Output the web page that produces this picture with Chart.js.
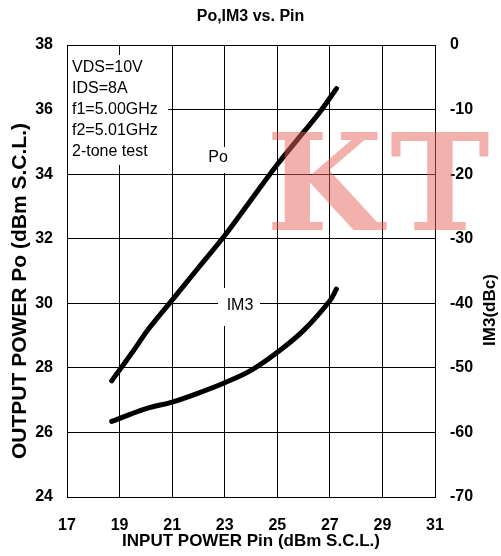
<!DOCTYPE html>
<html>
<head>
<meta charset="utf-8">
<script src="https://cdn.jsdelivr.net/npm/chart.js@4.4.0/dist/chart.umd.min.js"></script>
<style>
  html, body { margin: 0; padding: 0; background: #fff; }
</style>
</head>
<body>
<canvas id="poChart" width="501" height="556"></canvas>
<script>
// values
const pinPo = [18.7, 19.5, 20.1, 21, 22, 23, 24, 25, 26, 26.6, 27.25];
const po = [27.6, 28.5, 29.2, 30.1, 31.1, 32.1, 33.2, 34.3, 35.3, 35.9, 36.65];

const pinIm3 = [18.7, 19.4, 20.1, 21, 22, 23, 24, 25, 26, 27, 27.25];
const im3 = [-58.3, -57.2, -56.2, -55.3, -53.9, -52.3, -50.4, -47.6, -44.2, -39.6, -37.8];

const conditions = ['VDS=10V', 'IDS=8A', 'f1=5.00GHz', 'f2=5.01GHz', '2-tone test'];

const FONT = "'Liberation Sans', Arial, sans-serif";
Chart.defaults.color = '#000';
Chart.defaults.font.family = FONT;

const toPoints = (xs, ys) => xs.map((x, i) => ({ x: x, y: ys[i] }));

// text, labels boxes and the watermark
const extras = {
  id: 'extras',
  beforeDatasetsDraw(chart) {
    const ctx = chart.ctx;
    ctx.save();
    ctx.fillStyle = '#fff';
    ctx.fillRect(68, 55, 100, 110);   // conditions box
    ctx.fillRect(201, 147, 38, 26);   // Po label
    ctx.fillRect(218, 288, 42, 38);   // IM3 label

    ctx.fillStyle = '#000';
    ctx.font = '16px ' + FONT;
    ctx.textBaseline = 'middle';
    ctx.textAlign = 'left';
    conditions.forEach((t, i) => ctx.fillText(t, 72, 68 + i * 21));

    ctx.textAlign = 'center';
    ctx.fillText('Po', 218, 158);
    ctx.fillText('IM3', 240, 306);
    ctx.restore();
  },
  afterDraw(chart) {
    const ctx = chart.ctx;
    ctx.save();
    // axis titles (both read bottom to top)
    ctx.fillStyle = '#000';
    ctx.textAlign = 'center';
    ctx.textBaseline = 'middle';
    ctx.font = 'bold 21px ' + FONT;
    ctx.translate(20, 291);
    ctx.rotate(-Math.PI / 2);
    ctx.fillText('OUTPUT POWER Po (dBm S.C.L.)', 0, 0);
    ctx.restore();

    ctx.save();
    ctx.fillStyle = '#000';
    ctx.textAlign = 'center';
    ctx.textBaseline = 'middle';
    ctx.font = 'bold 17px ' + FONT;
    ctx.translate(490, 310);
    ctx.rotate(-Math.PI / 2);
    ctx.fillText('IM3(dBc)', 0, 0);
    ctx.restore();

    // KT watermark
    ctx.save();
    ctx.fillStyle = 'rgba(230, 100, 90, 0.5)';
    ctx.font = "bold 134px 'DejaVu Serif', serif";
    ctx.textBaseline = 'alphabetic';
    ctx.textAlign = 'left';
    ctx.fillText('K', 266, 230);
    ctx.fillText('T', 390, 230);
    ctx.restore();
  }
};

new Chart(document.getElementById('poChart').getContext('2d'), {
  type: 'line',
  data: {
    datasets: [
      {
        label: 'Po',
        data: toPoints(pinPo, po),
        yAxisID: 'y',
        borderColor: '#000',
        borderWidth: 5,
        borderCapStyle: 'round',
        pointRadius: 0,
        cubicInterpolationMode: 'monotone'
      },
      {
        label: 'IM3',
        data: toPoints(pinIm3, im3),
        yAxisID: 'y2',
        borderColor: '#000',
        borderWidth: 5,
        borderCapStyle: 'round',
        pointRadius: 0,
        tension: 0.4
      }
    ]
  },
  options: {
    responsive: false,
    animation: false,
    devicePixelRatio: 1,
    layout: { padding: 0 },
    plugins: {
      legend: { display: false },
      tooltip: { enabled: false },
      title: {
        display: true,
        text: 'Po,IM3 vs. Pin',
        color: '#000',
        font: { size: 16, weight: 'bold', family: FONT },
        padding: { top: 7, bottom: 18.8 }
      }
    },
    scales: {
      x: {
        type: 'linear',
        min: 17,
        max: 31,
        ticks: { stepSize: 2, padding: 19, font: { size: 16, weight: 'bold' } },
        grid: { color: '#000', lineWidth: 1, drawTicks: false },
        border: { display: true, color: '#000', width: 1 },
        title: {
          display: true,
          text: 'INPUT POWER Pin (dBm S.C.L.)',
          color: '#000',
          font: { size: 17, weight: 'bold' },
          padding: { top: 0, bottom: 4 }
        },
        afterFit: scale => { scale.height = 59; }
      },
      y: {
        position: 'left',
        min: 24,
        max: 38,
        ticks: { stepSize: 2, padding: 14, font: { size: 16, weight: 'bold' } },
        grid: { color: '#000', lineWidth: 1, drawTicks: false },
        border: { display: true, color: '#000', width: 1 },
        afterFit: scale => { scale.width = 67; }
      },
      y2: {
        position: 'right',
        min: -70,
        max: 0,
        ticks: { stepSize: 10, padding: 15, font: { size: 16, weight: 'bold' } },
        grid: { display: false, drawTicks: false },
        border: { display: true, color: '#000', width: 1 },
        afterFit: scale => { scale.width = 66; }
      }
    }
  },
  plugins: [extras]
});
</script>
</body>
</html>
